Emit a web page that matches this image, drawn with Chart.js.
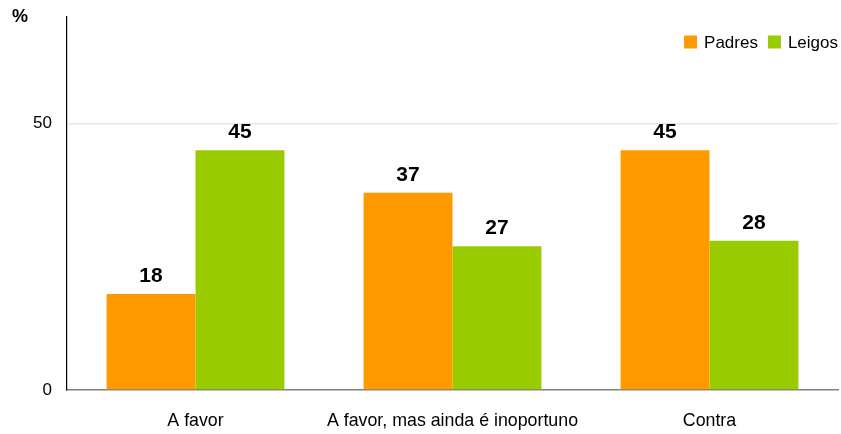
<!DOCTYPE html>
<html>
<head>
<meta charset="utf-8">
<script src="https://cdn.jsdelivr.net/npm/chart.js@4/dist/chart.umd.min.js"></script>
<style>
  html, body { margin: 0; padding: 0; background: #fff; }
  #wrap { width: 841px; height: 434px; }
</style>
</head>
<body>
<div id="wrap"><canvas id="c" width="841" height="434"></canvas></div>
<script>
const categories = ['A favor', 'A favor, mas ainda é inoportuno', 'Contra'];
const padres = [18, 37, 45];
const leigos = [45, 27, 28];
const seriesNames = ['Padres', 'Leigos'];
const yTicks = [0, 50];

const FONT = '"Liberation Sans", Arial, sans-serif';

// Value labels above each bar
const valueLabels = {
  id: 'valueLabels',
  afterDatasetsDraw(chart) {
    const ctx = chart.ctx;
    ctx.save();
    ctx.font = 'bold 21px ' + FONT;
    ctx.fillStyle = '#000';
    ctx.textAlign = 'center';
    ctx.textBaseline = 'alphabetic';
    chart.data.datasets.forEach((ds, i) => {
      chart.getDatasetMeta(i).data.forEach((bar, j) => {
        ctx.fillText(String(ds.data[j]), bar.x, bar.y - 12);
      });
    });
    ctx.restore();
  }
};

// Unit label and legend drawn in the upper corners
const decorations = {
  id: 'decorations',
  afterDraw(chart) {
    const ctx = chart.ctx;
    const area = chart.chartArea;
    ctx.save();
    ctx.font = 'bold 18px ' + FONT;
    ctx.fillStyle = '#000';
    ctx.textAlign = 'left';
    ctx.textBaseline = 'middle';
    ctx.fillText('%', 12, 17);

    ctx.font = '17px ' + FONT;
    const box = 13, gapBox = 7, gapItem = 10;
    const items = chart.data.datasets.map(ds => ({ text: ds.label, color: ds.backgroundColor }));
    let total = 0;
    items.forEach((it, k) => {
      total += box + gapBox + ctx.measureText(it.text).width + (k < items.length - 1 ? gapItem : 0);
    });
    let x = area.right - total;
    const cy = 42;
    items.forEach(it => {
      ctx.fillStyle = it.color;
      ctx.fillRect(x, cy - box / 2, box, box);
      x += box + gapBox;
      ctx.fillStyle = '#000';
      ctx.fillText(it.text, x, cy + 1);
      x += ctx.measureText(it.text).width + gapItem;
    });
    ctx.restore();
  }
};

new Chart(document.getElementById('c'), {
  type: 'bar',
  data: {
    labels: categories,
    datasets: [
      { label: seriesNames[0], data: padres, backgroundColor: '#FF9900' },
      { label: seriesNames[1], data: leigos, backgroundColor: '#99CC00' }
    ]
  },
  options: {
    responsive: false,
    animation: false,
    devicePixelRatio: 1,
    layout: { padding: { top: 17, right: 3, left: 0, bottom: 0 } },
    datasets: { bar: { barPercentage: 1, categoryPercentage: 0.692 } },
    plugins: { legend: { display: false }, tooltip: { enabled: false } },
    scales: {
      x: {
        grid: { display: false, drawTicks: false },
        border: { display: true, color: '#808080', width: 1.5 },
        ticks: { color: '#000', font: { family: FONT, size: 17.8 }, padding: 20, maxRotation: 0 },
        afterFit(scale) {
          scale.height = 44;
          scale.paddingLeft = 0;
          scale.paddingRight = 0;
        }
      },
      y: {
        min: 0,
        max: 70,
        afterBuildTicks(scale) { scale.ticks = yTicks.map(v => ({ value: v })); },
        grid: {
          drawTicks: false,
          color: ctx => (ctx.tick && ctx.tick.value === 0) ? 'rgba(0,0,0,0)' : '#e6e6e6',
          lineWidth: 1.5
        },
        border: { display: true, color: '#000', width: 1.2 },
        ticks: { color: '#000', font: { family: FONT, size: 17 }, padding: 15 },
        afterFit(scale) {
          scale.width = 67;
          scale.paddingTop = 0;
          scale.paddingBottom = 0;
        }
      }
    }
  },
  plugins: [valueLabels, decorations]
});
</script>
</body>
</html>
